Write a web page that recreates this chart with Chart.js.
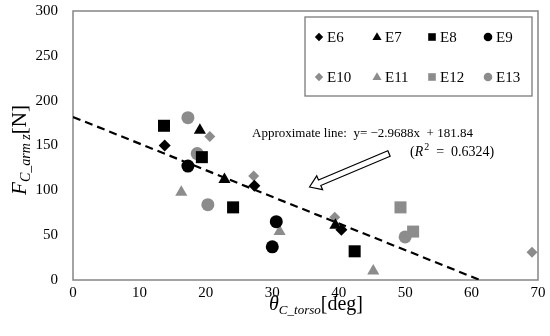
<!DOCTYPE html>
<html>
<head>
<meta charset="utf-8">
<script src="https://cdn.jsdelivr.net/npm/chart.js@4"></script>
<style>
  body { margin: 0; background: #fff; }
  canvas { display: block; }
</style>
</head>
<body>
<canvas id="chart" width="550" height="336"></canvas>
<script>
// data
const e6X = [13.8, 27.3, 40.4];
const e6Y = [150, 105, 56];
const e7X = [19.1, 22.8, 39.5];
const e7Y = [167, 112, 61];
const e8X = [13.7, 19.4, 24.1, 42.4];
const e8Y = [172, 137, 81, 32];
const e9X = [17.3, 30.6, 30.0];
const e9Y = [127, 65, 37];
const e10X = [20.6, 27.2, 39.4, 69.1];
const e10Y = [160, 116, 70, 31];
const e11X = [16.3, 31.1, 45.2];
const e11Y = [98, 54, 10];
const e12X = [49.3, 51.2];
const e12Y = [81, 54];
const e13X = [17.3, 18.7, 20.3, 50.0];
const e13Y = [181, 141, 84, 48];

const xTicks = [0, 10, 20, 30, 40, 50, 60, 70];
const yTicks = [0, 50, 100, 150, 200, 250, 300];

// approximate line from the figure's label
const slope = -2.9688;
const intercept = 181.84;
const fitX = [0, -intercept / slope];

const BLACK = '#000000';
const GRAY = '#8c8c8c';
const SERIF = '"Liberation Serif", "Times New Roman", serif';

const pts = (xs, ys) => xs.map((x, i) => ({ x: x, y: ys[i] }));

function series(label, xs, ys, color, style, r) {
    return {
        label: label,
        data: pts(xs, ys),
        backgroundColor: color,
        borderColor: color,
        borderWidth: 0,
        pointStyle: style,
        pointRadius: r,
        order: 2
    };
}

const datasets = [
    series('E6', e6X, e6Y, BLACK, 'rectRot', 6),
    series('E7', e7X, e7Y, BLACK, 'triangle', 7),
    series('E8', e8X, e8Y, BLACK, 'rect', 8.5),
    series('E9', e9X, e9Y, BLACK, 'circle', 6.5),
    series('E10', e10X, e10Y, GRAY, 'rectRot', 5.5),
    series('E11', e11X, e11Y, GRAY, 'triangle', 7),
    series('E12', e12X, e12Y, GRAY, 'rect', 8.5),
    series('E13', e13X, e13Y, GRAY, 'circle', 6.5),
    {
        type: 'line',
        label: 'fit',
        data: fitX.map(x => ({ x: x, y: slope * x + intercept })),
        borderColor: BLACK,
        borderWidth: 2.2,
        borderDash: [8, 5],
        pointRadius: 0,
        fill: false,
        order: 1
    }
];

// small marker painter for the legend box
function marker(ctx, style, color, x, y, r) {
    ctx.fillStyle = color;
    ctx.beginPath();
    if (style === 'circle') {
        ctx.arc(x, y, r, 0, Math.PI * 2);
    } else if (style === 'rect') {
        ctx.rect(x - r, y - r, 2 * r, 2 * r);
    } else if (style === 'rectRot') {
        ctx.moveTo(x - r, y);
        ctx.lineTo(x, y - r);
        ctx.lineTo(x + r, y);
        ctx.lineTo(x, y + r);
        ctx.closePath();
    } else if (style === 'triangle') {
        ctx.moveTo(x, y - r);
        ctx.lineTo(x + r * 0.95, y + r * 0.65);
        ctx.lineTo(x - r * 0.95, y + r * 0.65);
        ctx.closePath();
    }
    ctx.fill();
}

// draws text pieces [text, font, dy] in a row, centred on cx
function richText(ctx, parts, cx, cy) {
    let total = 0;
    parts.forEach(p => { ctx.font = p[1]; total += ctx.measureText(p[0]).width; });
    let x = cx - total / 2;
    ctx.textAlign = 'left';
    ctx.textBaseline = 'alphabetic';
    parts.forEach(p => {
        ctx.font = p[1];
        ctx.fillText(p[0], x, cy + p[2]);
        x += ctx.measureText(p[0]).width;
    });
}

const frame = {
    id: 'frame',
    beforeDatasetsDraw(chart) {
        const ctx = chart.ctx;
        const a = chart.chartArea;
        ctx.save();
        ctx.strokeStyle = '#858585';
        ctx.lineWidth = 1.5;
        ctx.strokeRect(a.left, a.top, a.right - a.left, a.bottom - a.top);
        ctx.restore();
    },
    afterDraw(chart) {
        const ctx = chart.ctx;
        ctx.save();

        // legend box
        ctx.strokeStyle = '#7a7a7a';
        ctx.lineWidth = 1.3;
        ctx.strokeRect(305, 17, 227, 79);
        const cols = [319, 377, 432, 488];
        const rows = [37, 77];
        const sizes = { rectRot: 4.2, triangle: 4.8, rect: 3.8, circle: 4.3 };
        datasets.slice(0, 8).forEach((d, i) => {
            const mx = cols[i % 4];
            const my = rows[Math.floor(i / 4)];
            marker(ctx, d.pointStyle, d.backgroundColor, mx, my, sizes[d.pointStyle]);
            ctx.fillStyle = '#000';
            ctx.font = '15px ' + SERIF;
            ctx.textAlign = 'left';
            ctx.textBaseline = 'middle';
            ctx.fillText(d.label, mx + 8, my + 1);
        });

        // annotation
        ctx.fillStyle = '#000';
        ctx.font = '13px ' + SERIF;
        ctx.textAlign = 'left';
        ctx.textBaseline = 'middle';
        ctx.fillText('Approximate line:  y= \u22122.9688x  + 181.84', 252, 134);
        let x = 410;
        ctx.font = '14px ' + SERIF;
        ctx.fillText('(', x, 152); x += ctx.measureText('(').width;
        ctx.font = 'italic 14px ' + SERIF;
        ctx.fillText('R', x, 152); x += ctx.measureText('R').width;
        ctx.font = '10px ' + SERIF;
        ctx.fillText('2', x + 1, 147); x += ctx.measureText('2').width + 1;
        ctx.font = '14px ' + SERIF;
        ctx.fillText('  =  0.6324)', x, 152);

        // hollow arrow pointing at the line
        const tip = [309.5, 187];
        const tail = [389, 153.5];
        const dx = tail[0] - tip[0], dy = tail[1] - tip[1];
        const len = Math.hypot(dx, dy);
        const ux = dx / len, uy = dy / len;
        const nx = -uy, ny = ux;
        const hl = 11, hw = 7.5, sw = 3;
        const P = (a, b) => [tip[0] + ux * a + nx * b, tip[1] + uy * a + ny * b];
        const poly = [P(0, 0), P(hl, hw), P(hl, sw), P(len, sw), P(len, -sw), P(hl, -sw), P(hl, -hw)];
        ctx.beginPath();
        poly.forEach((p, i) => i ? ctx.lineTo(p[0], p[1]) : ctx.moveTo(p[0], p[1]));
        ctx.closePath();
        ctx.fillStyle = '#fff';
        ctx.fill();
        ctx.strokeStyle = '#000';
        ctx.lineWidth = 1.2;
        ctx.stroke();

        // axis titles
        ctx.fillStyle = '#000';
        richText(ctx, [
            ['\u03b8', 'italic 20px ' + SERIF, 0],
            ['C_torso', 'italic 13px ' + SERIF, 4],
            ['[deg]', '20px ' + SERIF, 0]
        ], 316, 310);

        ctx.translate(26, 150);
        ctx.rotate(-Math.PI / 2);
        richText(ctx, [
            ['F', 'italic 21px ' + SERIF, 0],
            ['C_arm z', 'italic 14px ' + SERIF, 4],
            ['[N]', '21px ' + SERIF, 0]
        ], 0, 0);

        ctx.restore();
    }
};

new Chart(document.getElementById('chart'), {
    type: 'scatter',
    data: { datasets: datasets },
    plugins: [frame],
    options: {
        responsive: false,
        animation: false,
        layout: { padding: { top: 11, right: 12, left: 0, bottom: 0 } },
        plugins: {
            legend: { display: false },
            tooltip: { enabled: false }
        },
        scales: {
            x: {
                type: 'linear',
                min: 0,
                max: 70,
                afterBuildTicks: s => { s.ticks = xTicks.map(v => ({ value: v })); },
                afterFit: s => { s.height = 56; },
                grid: { display: false, drawTicks: false },
                border: { display: false },
                ticks: { color: '#000', padding: 4, font: { family: SERIF, size: 15 } }
            },
            y: {
                type: 'linear',
                min: 0,
                max: 300,
                afterBuildTicks: s => { s.ticks = yTicks.map(v => ({ value: v })); },
                afterFit: s => { s.width = 73; s.paddingTop = 0; s.paddingBottom = 0; },
                grid: { display: false, drawTicks: false },
                border: { display: false },
                ticks: { color: '#000', padding: 15, font: { family: SERIF, size: 15 } }
            }
        }
    }
});
</script>
</body>
</html>
